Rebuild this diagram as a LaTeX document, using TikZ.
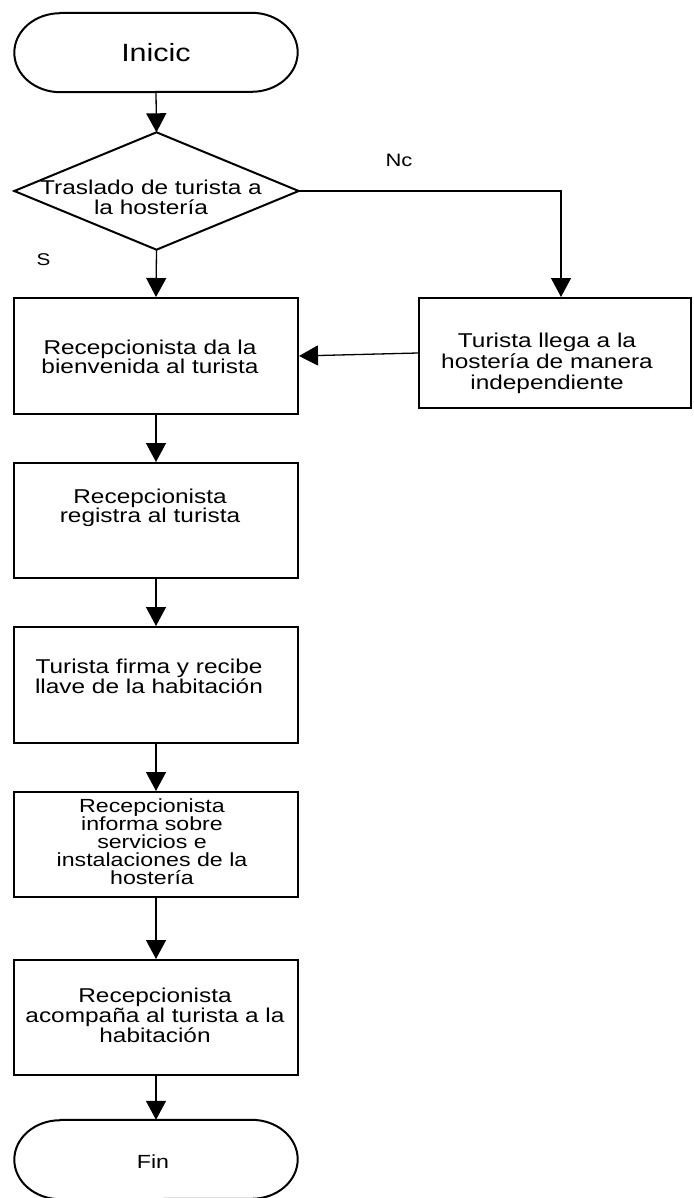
\documentclass[tikz,border=0pt]{standalone}
\usepackage{fontspec}
\newfontfamily\flowfont[FakeStretch=1.22]{Liberation Sans}
\usetikzlibrary{arrows.meta,calc}

\begin{document}
\begin{tikzpicture}[x=1pt,y=-1pt,
  stepbox/.style={draw,line width=2pt,minimum width=284pt,inner sep=0pt},
  termbox/.style={minimum width=283pt,minimum height=79pt,inner sep=0pt},
  outline/.style={line width=2pt,line join=round},
  txt/.style={font=\flowfont\fontsize{20}{19}\selectfont,align=center,inner sep=0pt},
  flow/.style={line width=1.3pt,-{Triangle[length=19pt,width=20pt]}},
]
\useasboundingbox (0,0) rectangle (693,1198);

% terminals: flat top and bottom with elliptic ends
\node[termbox] (start) at (156,52.5) {};
\draw[outline] ([xshift=46pt]start.north west) -- ([xshift=-46pt]start.north east)
  arc[start angle=-90,end angle=90,x radius=46,y radius=39.5]
  -- ([xshift=46pt]start.south west)
  arc[start angle=90,end angle=270,x radius=46,y radius=39.5] -- cycle;
\node[txt,font=\flowfont\fontsize{25}{25}\selectfont] (starttxt) at (156,52.5) {Inicic};

% decision
\node[minimum width=284pt,minimum height=117pt,inner sep=0pt] (dec) at (156.5,191) {};
\draw[outline,line join=miter] (dec.north) -- (dec.east) -- (dec.south) -- (dec.west) -- cycle;
\node[txt,font=\flowfont\fontsize{20}{20}\selectfont] (dectxt) at (151,197) {Traslado de turista a\\la hostería};

% process steps
\node[stepbox,minimum height=116pt] (b1) at (156,356) {};
\node[txt] (b1txt) at (150,356.5) {Recepcionista da la\\bienvenida al turista};

\node[stepbox,minimum width=272pt,minimum height=110pt] (rb) at (555,353) {};
\node[txt,font=\flowfont\fontsize{20}{21}\selectfont] (rbtxt) at (547,363) {Turista llega a la\\hostería de manera\\independiente};

\node[stepbox,minimum height=115pt] (b2) at (156,520.5) {};
\node[txt] (b2txt) at (150,508) {Recepcionista\\registra al turista};

\node[stepbox,minimum height=116pt] (b3) at (156,685) {};
\node[txt,font=\flowfont\fontsize{20}{20}\selectfont] (b3txt) at (149,676) {Turista firma y recibe\\llave de la habitación};

\node[stepbox,minimum height=105pt] (b4) at (156,844.5) {};
\node[txt,font=\flowfont\fontsize{19}{18}\selectfont] (b4txt) at (152,842) {Recepcionista\\informa sobre\\servicios e\\instalaciones de la\\hostería};

\node[stepbox,minimum height=115pt] (b5) at (156,1017.5) {};
\node[txt,font=\flowfont\fontsize{20}{20}\selectfont] (b5txt) at (155,1015) {Recepcionista\\acompaña al turista a la\\habitación};

\node[termbox] (fin) at (156,1159.5) {};
\draw[outline] ([xshift=46pt]fin.north west) -- ([xshift=-46pt]fin.north east)
  arc[start angle=-90,end angle=90,x radius=46,y radius=39.5]
  -- ([xshift=46pt]fin.south west)
  arc[start angle=90,end angle=270,x radius=46,y radius=39.5] -- cycle;
\node[txt,font=\flowfont\fontsize{19}{19}\selectfont] (fintxt) at (153,1161.5) {Fin};

% branch labels
\node[txt,font=\flowfont\fontsize{18}{18}\selectfont] (nolbl) at (399,160.5) {Nc};
\node[txt,font=\flowfont\fontsize{17}{17}\selectfont] (silbl) at (43.5,260) {S};

% connectors
\coordinate (rbin) at (561,297);
\draw[flow] (start.south) -- (dec.north);
\draw[flow] (dec.south) -- (b1.north);
\draw[flow] (dec.east) -| (rbin);
\draw[flow] (rb.west) -- (b1.east);
\draw[flow] (b1.south) -- (b2.north);
\draw[flow] (b2.south) -- (b3.north);
\draw[flow] (b3.south) -- (b4.north);
\draw[flow] (b4.south) -- (b5.north);
\draw[flow] (b5.south) -- (fin.north);
\end{tikzpicture}
\end{document}
